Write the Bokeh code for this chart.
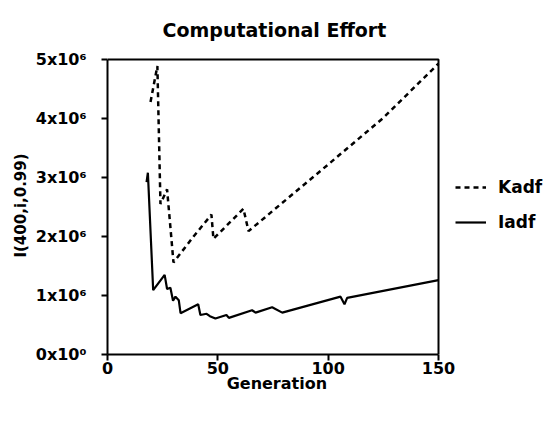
from bokeh.plotting import figure
from bokeh.models import Range1d, FixedTicker, Legend, LegendItem
from bokeh.embed import file_html
from bokeh.resources import INLINE

# ---- data ----
gen_kadf = [19.5, 22.6, 24.0, 27.0, 29.9, 39.0, 47.1, 48.0, 61.6, 63.9, 100.0, 125.0, 150.0]
kadf = [4.28e6, 4.89e6, 2.55e6, 2.80e6, 1.56e6, 2.00e6, 2.37e6, 1.96e6, 2.47e6, 2.09e6, 3.22e6, 4.01e6, 4.93e6]

gen_iadf = [17.7, 18.3, 20.7, 25.9, 27.0, 28.5, 29.7, 30.8, 32.3, 33.1, 41.1, 42.1, 44.9, 46.4,
            48.9, 53.9, 55.0, 65.5, 67.1, 74.6, 79.2, 105.6, 107.4, 108.6, 150.0]
iadf = [2.92e6, 3.08e6, 1.09e6, 1.35e6, 1.11e6, 1.13e6, 0.91e6, 0.98e6, 0.92e6, 0.70e6, 0.85e6, 0.67e6,
        0.69e6, 0.65e6, 0.61e6, 0.67e6, 0.62e6, 0.75e6, 0.71e6, 0.80e6, 0.71e6, 0.98e6, 0.85e6, 0.96e6, 1.26e6]

x_ticks = [0, 50, 100, 150]
y_ticks = [0, 1000000, 2000000, 3000000, 4000000, 5000000]
y_tick_labels = ["0x10\u2070", "1x10\u2076", "2x10\u2076", "3x10\u2076", "4x10\u2076", "5x10\u2076"]

FONT = "DejaVu Sans"

# layout: the axes box is 331 x 302 px; the frame is widened to the right (for the
# legend) and raised by a few px so the box's top border lies inside it.
BOX_W, BOX_H = 331, 302
FRAME_W, FRAME_H = 439, 305
x_min, x_max = x_ticks[0], x_ticks[-1]
y_min, y_max = y_ticks[0], y_ticks[-1]
x_view_max = x_min + (x_max - x_min) * FRAME_W / BOX_W
y_view_max = y_min + (y_max - y_min) * FRAME_H / BOX_H

p = figure(width=548, height=416, output_backend="svg", toolbar_location=None,
           x_range=Range1d(x_min, x_view_max), y_range=Range1d(y_min, y_view_max),
           title="Computational Effort",
           min_border_left=107, min_border_right=2, min_border_top=49, min_border_bottom=62)

p.background_fill_color = "white"
p.border_fill_color = "white"
p.outline_line_color = None
p.grid.visible = False

p.title.text_font = FONT
p.title.text_font_size = "19px"
p.title.text_font_style = "bold"
p.title.align = "left"
p.title.offset = 55
p.title.text_color = "black"
p.title.standoff = 32

xax = p.below[0]
yax = p.left[0]

for ax in (xax, yax):
    ax.axis_line_width = 2
    ax.axis_line_color = "black"
    ax.major_tick_line_width = 2
    ax.major_tick_line_color = "black"
    ax.major_tick_out = 6
    ax.major_tick_in = 0
    ax.minor_tick_line_color = None
    ax.major_label_text_font = FONT
    ax.major_label_text_font_style = "bold"
    ax.major_label_text_font_size = "16px"
    ax.major_label_text_color = "black"
    ax.axis_label_text_font = FONT
    ax.axis_label_text_font_style = "bold"
    ax.axis_label_text_color = "black"

xax.bounds = (x_min, x_max)
yax.bounds = (y_min, y_max)
xax.ticker = FixedTicker(ticks=x_ticks)
yax.ticker = FixedTicker(ticks=y_ticks)
yax.major_label_overrides = {t: l for t, l in zip(y_ticks, y_tick_labels)}
# the axis label is centred on the (widened) frame; trailing no-break spaces
# shift the visible word back to the centre of the axes box
xax.axis_label = "Generation" + "\u00a0" * 18
yax.axis_label = "I(400,i,0.99)"
xax.axis_label_text_font_size = "16px"
yax.axis_label_text_font_size = "15px"
xax.major_label_standoff = 1
yax.major_label_standoff = 15
xax.axis_label_standoff = -3
yax.axis_label_standoff = 3

# top and right borders of the axes box
p.line(x=[x_min, x_max, x_max], y=[y_max, y_max, y_min], line_color="black", line_width=2)

r_k = p.line(gen_kadf, kadf, line_color="black", line_width=2.5, line_dash="5 4")
r_i = p.line(gen_iadf, iadf, line_color="black", line_width=2.2)

legend = Legend(items=[LegendItem(label="Kadf", renderers=[r_k]),
                       LegendItem(label="Iadf", renderers=[r_i])],
                location=(348, 122), padding=0, margin=0, spacing=15,
                glyph_width=31, glyph_height=20, label_height=20, label_standoff=12,
                border_line_color=None, background_fill_alpha=0)
legend.label_text_font = FONT
legend.label_text_font_style = "bold"
legend.label_text_font_size = "17px"
legend.label_text_color = "black"
p.add_layout(legend, "center")

open("out.html", "w").write(file_html(p, INLINE))
